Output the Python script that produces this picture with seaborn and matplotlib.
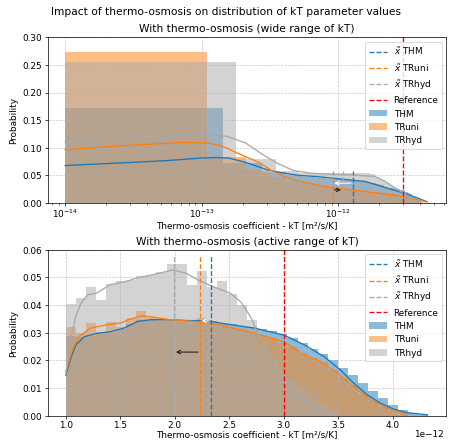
import numpy as np
import pandas as pd
import matplotlib
matplotlib.use("Agg")
import matplotlib.pyplot as plt
import seaborn as sns
from matplotlib.lines import Line2D
from matplotlib.patches import Patch
from matplotlib.ticker import FuncFormatter

# ------------------------------------------------------------------ data
# all kT values expressed in units of 1e-12 m2/s/K
UNIT = 1e-12
series = ["THM", "TRuni", "TRhyd"]
colors = {"THM": "#1f77b4", "TRuni": "#ff7f0e", "TRhyd": "darkgray"}

# medians and reference
median_wide = {"THM": 1.28, "TRuni": 0.908, "TRhyd": 1.08}
median_active = {"THM": 2.33, "TRuni": 2.23, "TRhyd": 1.995}
reference_kT = 3.0

# ---- wide range histogram (probability per bin), bins start at 0.01
wide_bin_start = 0.01
wide_bin_width = {"THM": 0.134, "TRuni": 0.100, "TRhyd": 0.169}
wide_THM = [0.173, 0.0725, 0.056, 0.051, 0.047, 0.046, 0.044, 0.043, 0.042, 0.041,
            0.040, 0.039, 0.037, 0.036, 0.034, 0.032, 0.030, 0.028, 0.027, 0.026,
            0.025, 0.024, 0.023, 0.021, 0.019, 0.016, 0.013, 0.010, 0.007, 0.004,
            0.002, 0.001]
wide_TRuni = [0.273, 0.083, 0.060, 0.048, 0.040, 0.036, 0.033, 0.031, 0.029, 0.028,
              0.027, 0.026, 0.025, 0.024, 0.023, 0.022, 0.022, 0.021, 0.021, 0.020,
              0.019, 0.018, 0.018, 0.017, 0.016, 0.016, 0.015, 0.014, 0.013, 0.013,
              0.012, 0.011, 0.010, 0.009, 0.008, 0.006, 0.005, 0.004, 0.003, 0.002,
              0.001]
wide_TRhyd = [0.256, 0.080, 0.058, 0.055, 0.055, 0.054, 0.055, 0.054, 0.055, 0.054,
              0.053, 0.048, 0.042, 0.036, 0.031, 0.027, 0.023, 0.019, 0.012, 0.006,
              0.002]

# ---- wide range KDE curves (x, probability)
wkde_THM_x = [0.0100, 0.0316, 0.0562, 0.0977, 0.126, 0.158, 0.214, 0.302, 0.398,
              0.527, 0.679, 0.900, 1.19, 1.58, 2.09, 2.77, 3.66, 4.47]
wkde_THM_y = [0.068, 0.0738, 0.077, 0.0815, 0.0825, 0.0815, 0.073, 0.0603, 0.0543,
              0.050, 0.0482, 0.0453, 0.0422, 0.0391, 0.030, 0.021, 0.0109, 0.0024]
wkde_TRuni_x = [0.0100, 0.0282, 0.0741, 0.110, 0.129, 0.153, 0.171, 0.219, 0.269,
                0.318, 0.398, 0.527, 0.679, 0.955, 1.58, 2.77, 3.66, 4.37]
wkde_TRuni_y = [0.0966, 0.1044, 0.1098, 0.1087, 0.1056, 0.0996, 0.0935, 0.082, 0.0725,
                0.0603, 0.0482, 0.0391, 0.0332, 0.0272, 0.021, 0.0132, 0.0072, 0.0024]
wkde_TRhyd_x = [0.0100, 0.0282, 0.0977, 0.153, 0.209, 0.269, 0.355, 0.468, 0.624,
                0.804, 1.19, 1.86, 2.21, 2.62, 3.02, 3.39, 3.63]
wkde_TRhyd_y = [0.1105, 0.1177, 0.125, 0.121, 0.109, 0.0906, 0.0725, 0.059, 0.0543,
                0.0525, 0.0513, 0.0482, 0.0391, 0.0272, 0.018, 0.008, 0.002]

# ---- active range histogram (probability per bin), bins start at 1.0
active_bin_start = 1.0
active_bin_width = 0.0925
active_THM = [0.0288, 0.0286, 0.0290, 0.0300, 0.0302, 0.0315, 0.0330, 0.0345, 0.0345,
              0.0343, 0.0344, 0.0346, 0.0342, 0.0345, 0.0341, 0.0336, 0.0330, 0.0326,
              0.0320, 0.0314, 0.0306, 0.0296, 0.0282, 0.0262, 0.0240, 0.0222, 0.0200,
              0.0172, 0.0146, 0.0118, 0.0090, 0.0064, 0.0040, 0.0022, 0.0010, 0.0004]
active_TRuni = [0.0322, 0.0300, 0.0335, 0.0302, 0.0338, 0.0322, 0.0352, 0.0377, 0.0355,
                0.0350, 0.0345, 0.0340, 0.0332, 0.0355, 0.0335, 0.0328, 0.0318, 0.0312,
                0.0300, 0.0292, 0.0282, 0.0262, 0.0248, 0.0228, 0.0210, 0.0193, 0.0166,
                0.0138, 0.0110, 0.0080, 0.0054, 0.0032, 0.0016, 0.0006]
active_TRhyd = [0.0405, 0.0425, 0.0467, 0.0417, 0.0477, 0.0486, 0.0490, 0.0504, 0.0510,
                0.0520, 0.0550, 0.0550, 0.0474, 0.0522, 0.0465, 0.0488, 0.0440, 0.0400,
                0.0345, 0.0250, 0.0200, 0.0160, 0.0130, 0.0100, 0.0070, 0.0045, 0.0020]

# ---- active range KDE curves
akde_THM_x = [1.00, 1.046, 1.092, 1.17, 1.29, 1.41, 1.535, 1.66, 1.78, 1.94, 2.12,
              2.29, 2.45, 2.73, 3.00, 3.19, 3.37, 3.52, 3.645, 3.77, 3.89, 4.01,
              4.13, 4.32]
akde_THM_y = [0.0147, 0.0208, 0.0256, 0.0286, 0.0298, 0.0304, 0.0317, 0.0341, 0.0347,
              0.0347, 0.0344, 0.0344, 0.0333, 0.0317, 0.0292, 0.0256, 0.0214, 0.0166,
              0.0117, 0.0075, 0.0045, 0.0024, 0.0011, 0.0003]
akde_TRuni_x = [1.00, 1.06, 1.12, 1.23, 1.38, 1.50, 1.60, 1.69, 1.81, 1.96, 2.18,
                2.40, 2.73, 3.00, 3.19, 3.34, 3.49, 3.645, 3.80, 3.95, 4.12]
akde_TRuni_y = [0.016, 0.0238, 0.0286, 0.0317, 0.0329, 0.0335, 0.035, 0.0361, 0.0356,
                0.0347, 0.0341, 0.0329, 0.0298, 0.0268, 0.022, 0.0196, 0.0154, 0.0105,
                0.0057, 0.0027, 0.0005]
akde_TRhyd_x = [1.00, 1.046, 1.092, 1.14, 1.20, 1.28, 1.41, 1.56, 1.65, 1.80, 1.98,
                2.10, 2.22, 2.35, 2.51, 2.61, 2.70, 2.76, 2.85, 2.94, 3.03, 3.13,
                3.22, 3.34, 3.48]
akde_TRhyd_y = [0.015, 0.028, 0.036, 0.0407, 0.0437, 0.0443, 0.0474, 0.0486, 0.0498,
                0.051, 0.0527, 0.0516, 0.049, 0.0467, 0.0443, 0.041, 0.0355, 0.030,
                0.024, 0.018, 0.0128, 0.0075, 0.0045, 0.002, 0.0003]

wide_ticks = [1e-14, 1e-13, 1e-12]
active_ticks = [1.0, 1.5, 2.0, 2.5, 3.0, 3.5, 4.0]
active_scale_label = "1e\u221212"

wide_hist = {"THM": wide_THM, "TRuni": wide_TRuni, "TRhyd": wide_TRhyd}
active_hist = {"THM": active_THM, "TRuni": active_TRuni, "TRhyd": active_TRhyd}
wide_kde = {"THM": (wkde_THM_x, wkde_THM_y), "TRuni": (wkde_TRuni_x, wkde_TRuni_y),
            "TRhyd": (wkde_TRhyd_x, wkde_TRhyd_y)}
active_kde = {"THM": (akde_THM_x, akde_THM_y), "TRuni": (akde_TRuni_x, akde_TRuni_y),
              "TRhyd": (akde_TRhyd_x, akde_TRhyd_y)}

# ------------------------------------------------------------------ figure
DPI = 63.6
fig = plt.figure(figsize=(451.4 / DPI, 442.4 / DPI), dpi=DPI)
ax_top = fig.add_axes([0.106, 0.540, 0.883, 0.3747])
ax_bot = fig.add_axes([0.106, 0.0595, 0.883, 0.3749])


def draw_hist(ax, start, width, heights, color):
    heights = np.asarray(heights, dtype=float)
    edges = start + width * np.arange(len(heights) + 1)
    centers = 0.5 * (edges[:-1] + edges[1:])
    df = pd.DataFrame({"kT": centers * UNIT, "prob": heights})
    sns.histplot(data=df, x="kT", weights="prob", bins=list(edges * UNIT), stat="count",
                 color=color, alpha=0.5, linewidth=0, ax=ax)


def draw_panel(ax, hist, start, widths, kde, medians, arrow_y_black, arrow_y_white):
    for s in series:
        w = widths[s] if isinstance(widths, dict) else widths
        draw_hist(ax, start, w, hist[s], colors[s])
    for s in series:
        x, y = kde[s]
        df = pd.DataFrame({"kT": np.asarray(x) * UNIT, "p": y})
        sns.lineplot(data=df, x="kT", y="p", color=colors[s], lw=1.5,
                     estimator=None, ax=ax)
    for s in series:
        ax.vlines(medians[s] * UNIT, 0, 0.058, colors=colors[s], linestyles="--", lw=1.5)
    ax.axvline(reference_kT * UNIT, color="red", ls="--", lw=1.5)
    ax.annotate("", xy=(medians["TRuni"] * UNIT, arrow_y_white),
                xytext=(medians["THM"] * UNIT, arrow_y_white),
                arrowprops=dict(arrowstyle="->", color="white", lw=1.2))
    ax.annotate("", xy=(medians["TRhyd"] * UNIT, arrow_y_black),
                xytext=(medians["TRuni"] * UNIT, arrow_y_black),
                arrowprops=dict(arrowstyle="->", color="#222222", lw=1.2))
    ax.grid(True, linestyle="--", color="#b0b0b0", lw=0.8, alpha=0.7)
    ax.set_ylabel("Probability")
    ax.set_xlabel("Thermo-osmosis coefficient - kT [m²/s/K]")
    handles = [Line2D([], [], color=colors[s], ls="--", lw=1.5, label=r"$\tilde{x}$ " + s)
               for s in series]
    handles.append(Line2D([], [], color="red", ls="--", lw=1.5, label="Reference"))
    handles += [Patch(facecolor=colors[s], alpha=0.5, label=s) for s in series]
    ax.legend(handles=handles, loc="upper right")


draw_panel(ax_top, wide_hist, wide_bin_start, wide_bin_width, wide_kde,
           median_wide, 0.024, 0.036)
ax_top.set_xscale("log")
ax_top.set_xticks(wide_ticks)
ax_top.set_xlim(7.46e-15, 6.2e-12)
ax_top.set_ylim(0, 0.30)
ax_top.tick_params(axis="x", which="major", pad=0.8)
ax_top.set_title("With thermo-osmosis (wide range of kT)")
ax_top.xaxis.set_label_coords(0.5, -0.108)

draw_panel(ax_bot, active_hist, active_bin_start, active_bin_width, active_kde,
           median_active, 0.023, 0.0343)
ax_bot.set_xticks([t * UNIT for t in active_ticks])
ax_bot.xaxis.set_major_formatter(FuncFormatter(lambda v, p: f"{v / UNIT:.1f}"))
ax_bot.set_xlim(0.835e-12, 4.495e-12)
ax_bot.set_ylim(0, 0.06)
ax_bot.tick_params(axis="x", which="major", pad=2.0)
ax_bot.set_title("With thermo-osmosis (active range of kT)")
ax_bot.xaxis.set_label_coords(0.5, -0.082)
ax_bot.text(0.993, -0.112, active_scale_label, transform=ax_bot.transAxes,
            ha="right", va="center")

fig.suptitle("Impact of thermo-osmosis on distribution of kT parameter values", y=0.985)

fig.savefig("out.png", dpi=DPI)
